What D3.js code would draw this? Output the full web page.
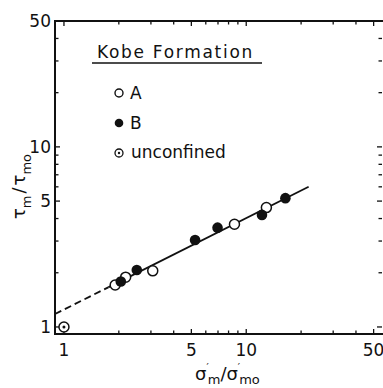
<!DOCTYPE html>
<html>
<head>
<meta charset="utf-8">
<script src="https://cdn.jsdelivr.net/npm/d3@7"></script>
<style>
  body { margin: 0; background: #fff; }
  svg { display: block; font-family: "DejaVu Sans", sans-serif; }
  text { fill: #111; }
</style>
</head>
<body>
<svg width="383" height="388"></svg>
<script>
// data
const seriesA = [
  { x: 1.91, y: 1.71 },
  { x: 2.18, y: 1.89 },
  { x: 3.07, y: 2.05 },
  { x: 8.62, y: 3.72 },
  { x: 12.9, y: 4.60 }
];
const seriesB = [
  { x: 2.05, y: 1.79 },
  { x: 2.51, y: 2.07 },
  { x: 5.24, y: 3.04 },
  { x: 6.96, y: 3.56 },
  { x: 12.2, y: 4.19 },
  { x: 16.4, y: 5.19 }
];
const unconfined = [{ x: 1.0, y: 1.0 }];
const fitDashed = [{ x: 0.893, y: 1.18 }, { x: 1.75, y: 1.66 }];
const fitSolid = [{ x: 1.75, y: 1.66 }, { x: 22, y: 6.01 }];
const tickLabels = [1, 5, 10, 50];
const minorTicks = [1, 2, 3, 4, 5, 6, 7, 8, 9, 10, 20, 30, 40, 50];

const svg = d3.select('svg');
const pLeft = 55, pRight = 384, pTop = 21, pBottom = 334;

const x = d3.scaleLog().domain([0.893, 57]).range([pLeft, pRight]);
const y = d3.scaleLog().domain([0.914, 50]).range([pBottom, pTop]);

// minor ticks, all pointing inward
const tk = svg.append('g').attr('stroke', '#111').attr('stroke-width', 1.3);
minorTicks.forEach(v => {
  const len = tickLabels.includes(v) ? 5 : 3.5;
  tk.append('line').attr('x1', x(v)).attr('x2', x(v)).attr('y1', pBottom).attr('y2', pBottom - len);
  tk.append('line').attr('x1', x(v)).attr('x2', x(v)).attr('y1', pTop).attr('y2', pTop + len);
  tk.append('line').attr('y1', y(v)).attr('y2', y(v)).attr('x1', pLeft).attr('x2', pLeft + len);
  tk.append('line').attr('y1', y(v)).attr('y2', y(v)).attr('x1', pRight - 2).attr('x2', pRight - 2 - len);
});

// frame
svg.append('rect')
  .attr('x', pLeft).attr('y', pTop)
  .attr('width', pRight - pLeft).attr('height', pBottom - pTop)
  .attr('fill', 'none').attr('stroke', '#111').attr('stroke-width', 2);

// tick labels
svg.append('g').selectAll('text')
  .data(tickLabels).enter().append('text')
  .attr('x', d => x(d)).attr('y', 356)
  .attr('text-anchor', 'middle')
  .attr('font-size', 17)
  .text(d => d);

svg.append('g').selectAll('text')
  .data(tickLabels).enter().append('text')
  .attr('x', 51).attr('y', d => y(d) + 6)
  .attr('text-anchor', 'end')
  .attr('font-size', 17)
  .text(d => d);

// fit line
const line = d3.line().x(d => x(d.x)).y(d => y(d.y));
svg.append('path').attr('d', line(fitDashed))
  .attr('fill', 'none').attr('stroke', '#111').attr('stroke-width', 1.8)
  .attr('stroke-dasharray', '7,4');
svg.append('path').attr('d', line(fitSolid))
  .attr('fill', 'none').attr('stroke', '#111').attr('stroke-width', 1.8);

// points
svg.append('g').selectAll('circle')
  .data(seriesA).enter().append('circle')
  .attr('cx', d => x(d.x)).attr('cy', d => y(d.y)).attr('r', 5)
  .attr('fill', '#fff').attr('stroke', '#111').attr('stroke-width', 1.5);

svg.append('g').selectAll('circle')
  .data(seriesB).enter().append('circle')
  .attr('cx', d => x(d.x)).attr('cy', d => y(d.y)).attr('r', 5.3)
  .attr('fill', '#111');

const uc = svg.append('g').selectAll('g')
  .data(unconfined).enter().append('g');
uc.append('circle')
  .attr('cx', d => x(d.x)).attr('cy', d => y(d.y)).attr('r', 5)
  .attr('fill', '#fff').attr('stroke', '#111').attr('stroke-width', 1.5);
uc.append('circle')
  .attr('cx', d => x(d.x)).attr('cy', d => y(d.y)).attr('r', 1.5)
  .attr('fill', '#111');

// legend
svg.append('text').attr('x', 97).attr('y', 58)
  .attr('font-size', 17).attr('letter-spacing', 1.7)
  .text('Kobe  Formation');
svg.append('line').attr('x1', 92).attr('x2', 262).attr('y1', 63).attr('y2', 63)
  .attr('stroke', '#111').attr('stroke-width', 1.6);

svg.append('circle').attr('cx', 119).attr('cy', 93).attr('r', 4)
  .attr('fill', '#fff').attr('stroke', '#111').attr('stroke-width', 1.4);
svg.append('text').attr('x', 130).attr('y', 99).attr('font-size', 17).text('A');

svg.append('circle').attr('cx', 119).attr('cy', 123).attr('r', 4.3).attr('fill', '#111');
svg.append('text').attr('x', 130).attr('y', 129).attr('font-size', 17).text('B');

svg.append('circle').attr('cx', 119).attr('cy', 153).attr('r', 4)
  .attr('fill', '#fff').attr('stroke', '#111').attr('stroke-width', 1.3);
svg.append('circle').attr('cx', 119).attr('cy', 153).attr('r', 1.2).attr('fill', '#111');
svg.append('text').attr('x', 131).attr('y', 158).attr('font-size', 17).text('unconfined');

// x axis title
const xt = svg.append('text').attr('x', 195).attr('y', 380).attr('font-size', 18);
xt.append('tspan').text('σ');
xt.append('tspan').attr('font-size', 10).attr('dy', -9).attr('dx', 0).text('′');
xt.append('tspan').attr('font-size', 13).attr('dy', 13).attr('dx', -1).text('m');
xt.append('tspan').attr('dy', -4).text('/σ');
xt.append('tspan').attr('font-size', 10).attr('dy', -9).attr('dx', 0).text('′');
xt.append('tspan').attr('font-size', 13).attr('dy', 13).attr('dx', -1).text('mo');

// y axis title
const yt = svg.append('text')
  .attr('transform', 'translate(25,219) rotate(-90)')
  .attr('font-size', 18);
yt.append('tspan').text('τ');
yt.append('tspan').attr('font-size', 13).attr('dy', 6).text('m');
yt.append('tspan').attr('dy', -6).attr('dx', 2).text('/');
yt.append('tspan').attr('dx', 2).text('τ');
yt.append('tspan').attr('font-size', 13).attr('dy', 6).text('mo');
</script>
</body>
</html>
